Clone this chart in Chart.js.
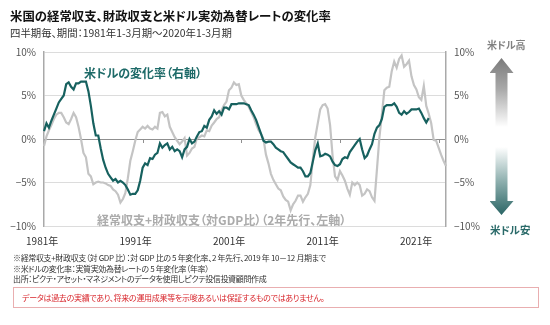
<!DOCTYPE html>
<html lang="ja">
<head>
<meta charset="utf-8">
<title>米国の経常収支、財政収支と米ドル実効為替レートの変化率</title>
<script src="https://cdn.jsdelivr.net/npm/chart.js@4.4.0/dist/chart.umd.min.js"></script>
<style>
  body { margin: 0; background: #fff; }
  #wrap { position: relative; width: 550px; height: 325px; overflow: hidden;
          font-family: "Noto Sans CJK JP", "Noto Sans", sans-serif; font-feature-settings: "palt"; color: #222; }
  #wrap div { position: absolute; white-space: nowrap; line-height: 1; }
  #chart { position: absolute; left: 0; top: 0; }
  .title { left: 10px; top: 10px; font-size: 12.4px; font-weight: bold; color: #111; }
  .sub { left: 10px; top: 27.5px; font-size: 10.4px; color: #333; }
  .note { left: 13px; font-size: 8px; letter-spacing: -0.35px; color: #333; }
  .lbl-usd { left: 84px; top: 67px; font-size: 12px; font-weight: bold; color: #1d6a68; }
  .lbl-bal { left: 97px; top: 214px; font-size: 12px; font-weight: bold; color: #ababab; }
  .up-txt { left: 487px; top: 39.5px; font-size: 10px; font-weight: bold; color: #808080; }
  .dn-txt { left: 490px; top: 224.5px; font-size: 10.5px; font-weight: bold; color: #2a6a69; }
  .arrow-up { left: 489.5px; top: 58px; width: 24px; height: 69px;
              background: linear-gradient(to bottom, #7a7a7a 0%, #a9a9a9 45%, #ffffff 100%);
              clip-path: polygon(12px 0, 24px 15px, 18px 15px, 18px 69px, 6px 69px, 6px 15px, 0 15px); }
  .arrow-dn { left: 489.5px; top: 147px; width: 24px; height: 68px;
              background: linear-gradient(to bottom, #ffffff 0%, #8fb0af 50%, #2b6565 100%);
              clip-path: polygon(6px 0, 18px 0, 18px 54px, 24px 54px, 12px 68px, 0 54px, 6px 54px); }
  .warn { left: 13px; top: 287px; width: 526px; height: 21px; border: 1px solid #e9aeb0; box-sizing: border-box; }
  .warn-txt { left: 22px; top: 294px; font-size: 8px; letter-spacing: -0.3px; color: #d8262c; }
</style>
</head>
<body>
<div id="wrap">
  <canvas id="chart" width="550" height="325"></canvas>
  <div class="title">米国の経常収支、財政収支と米ドル実効為替レートの変化率</div>
  <div class="sub">四半期毎、期間：1981年1-3月期～2020年1-3月期</div>
  <div class="lbl-usd">米ドルの変化率（右軸）</div>
  <div class="lbl-bal">経常収支+財政収支（対GDP比）（2年先行、左軸）</div>
  <div class="up-txt">米ドル高</div>
  <div class="arrow-up"></div>
  <div class="arrow-dn"></div>
  <div class="dn-txt">米ドル安</div>
  <div class="note" style="top:254px">※経常収支+財政収支（対 GDP 比）：対 GDP 比の 5 年変化率、2 年先行、2019 年 10－12 月期まで</div>
  <div class="note" style="top:264.5px">※米ドルの変化率：実質実効為替レートの 5 年変化率（年率）</div>
  <div class="note" style="top:275px">出所：ピクテ・アセット・マネジメントのデータを使用しピクテ投信投資顧問作成</div>
  <div class="warn"></div>
  <div class="warn-txt">データは過去の実績であり、将来の運用成果等を示唆あるいは保証するものではありません。</div>
</div>
<script>
// quarterly categories, 1981 Q1 .. 2021 Q4
const quarterLabels = [];
for (let y = 1981; y <= 2021; y++) {
    for (let q = 1; q <= 4; q++) quarterLabels.push(y + 'Q' + q);
}

const tickYears = [1981, 1991, 2001, 2011, 2021];
const axisTicks = [-10, -5, 0, 5, 10];

// 米ドルの変化率 (right axis, %), 1981Q1 .. 2020Q1
const dollarChange = [
    0.9, 1.8, 1.3, 2.1, 2.8, 3.5, 4.2, 4.6, 5.0, 6.3,
    6.5, 6.0, 5.7, 6.4, 6.4, 6.6, 6.6, 6.6, 5.5, 3.8,
    1.8, 0.4, 0.4, -1.1, -2.4, -3.3, -4.0, -4.4, -4.8, -4.6,
    -5.0, -4.8, -5.0, -5.3, -5.8, -6.4, -6.3, -6.3, -5.9, -4.8,
    -3.3, -2.8, -3.0, -2.2, -2.3, -1.8, -1.6, -0.5, -1.0, -0.7,
    -0.5, -1.2, -0.9, -1.4, -1.2, -1.4, -2.1, -1.2, -0.9, 0.0,
    -0.5, -0.3, 0.3, 0.8, 0.9, 1.5, 1.3, 2.2, 2.6, 3.3,
    2.9, 3.2, 2.8, 3.6, 3.6, 3.4, 4.0, 4.0, 4.0, 4.1,
    4.1, 4.1, 4.0, 3.9, 3.3, 2.8, 2.2, 1.4, 0.6, -0.2,
    -0.4, -0.3, -0.3, -0.6, -1.0, -1.2, -1.4, -1.5, -1.9, -2.3,
    -2.7, -2.9, -3.1, -3.3, -3.3, -3.7, -4.3, -4.3, -3.9, -2.6,
    -1.3, -0.5, -2.0, -1.9, -1.7, -1.8, -2.0, -2.6, -3.0, -3.1,
    -2.9, -2.3, -2.1, -2.2, -1.5, -1.1, -0.7, -0.3, 0.0, -1.2,
    -2.2, -1.9, -1.2, -0.6, 0.6, 1.3, 1.6, 2.3, 3.7, 3.9,
    3.9, 3.9, 4.1, 3.7, 3.0, 2.8, 3.2, 2.9, 3.1, 3.4,
    3.4, 3.4, 3.5, 3.0, 2.4, 1.9, 2.4
];

// 経常収支+財政収支 (対GDP比, 2年先行, left axis, %), 1981Q1 .. 2021Q4
const balanceChange = [
    -0.8, 0.3, 1.0, 1.6, 2.3, 2.8, 3.0, 3.0, 2.5, 1.9,
    1.7, 2.3, 3.0, 2.5, 1.4, 0.0, -1.6, -2.1, -4.0, -4.3,
    -5.2, -5.0, -4.9, -5.0, -5.0, -5.1, -5.3, -5.4, -5.8, -6.0,
    -6.4, -7.3, -6.9, -6.2, -4.5, -2.5, -1.4, -0.2, 0.8, 1.1,
    1.4, 1.2, 1.5, 1.2, 1.1, 1.4, 1.2, 3.0, 3.1, 2.6,
    2.8, 1.4, 0.8, 0.2, -0.2, -0.6, -0.3, 0.1, -1.9, -1.6,
    -1.1, -0.9, 0.1, 0.2, 0.4, 0.3, 1.0, 0.9, 1.55, 1.9,
    2.3, 2.5, 3.3, 3.9, 4.3, 5.6, 5.9, 6.5, 6.2, 6.3,
    5.0, 4.5, 4.1, 3.7, 3.1, 2.5, 1.7, 1.0, 0.6, 0.0,
    -1.8, -2.8, -4.0, -4.7, -5.2, -5.7, -5.9, -6.6, -7.0, -7.2,
    -8.2, -7.5, -7.1, -6.5, -6.5, -7.2, -6.7, -6.3, -5.3, -2.3,
    0.2, 1.8, 3.4, 3.9, 4.0, 3.5, 1.6, -1.9, -4.3, -4.7,
    -3.7, -4.2, -4.8, -5.7, -6.4, -5.0, -5.3, -5.0, -5.3, -6.5,
    -6.3, -5.8, -6.0, -6.7, -7.1, -3.5, 0.2, 2.8, 5.6, 5.9,
    6.0, 7.8, 8.9, 8.2, 9.2, 9.6, 8.3, 8.6, 9.0, 7.2,
    6.2, 5.7, 4.8, 4.5, 6.1, 3.8, 2.9, 1.8, -0.1, -0.2,
    -1.0, -1.8, -2.5, -3.1
];

const pct = v => (v < 0 ? '−' + Math.abs(v) : v) + '%';

// small tick marks on the zero line at each decade start
const zeroTicks = {
    id: 'zeroTicks',
    beforeDatasetsDraw(chart) {
        const { ctx, scales } = chart;
        const y0 = scales.yL.getPixelForValue(0);
        ctx.save();
        ctx.strokeStyle = '#8f8f8f';
        ctx.lineWidth = 1;
        tickYears.forEach(yr => {
            const idx = quarterLabels.indexOf(yr + 'Q1');
            const x = Math.round(scales.x.getPixelForValue(idx)) + 0.5;
            ctx.beginPath();
            ctx.moveTo(x, y0);
            ctx.lineTo(x, y0 + 4);
            ctx.stroke();
        });
        ctx.restore();
    }
};

const tickFont = { family: '"Noto Sans CJK JP", sans-serif', size: 10 };

new Chart(document.getElementById('chart'), {
    type: 'line',
    data: {
        labels: quarterLabels,
        datasets: [
            {
                label: '米ドルの変化率（右軸）',
                data: dollarChange,
                xAxisID: 'x',
                yAxisID: 'yR',
                borderColor: '#17615f',
                borderWidth: 2.2,
                pointRadius: 0,
                tension: 0,
                order: 0
            },
            {
                label: '経常収支+財政収支（対GDP比）（2年先行、左軸）',
                data: balanceChange,
                xAxisID: 'x',
                yAxisID: 'yL',
                borderColor: '#c4c4c4',
                borderWidth: 2.2,
                pointRadius: 0,
                tension: 0,
                order: 1
            }
        ]
    },
    options: {
        responsive: false,
        animation: false,
        layout: { padding: { top: 52, right: 64, left: 0, bottom: 0 } },
        plugins: { legend: { display: false }, tooltip: { enabled: false } },
        scales: {
            x: { type: 'category', display: false, offset: false },
            xl: {
                type: 'linear',
                position: 'bottom',
                min: 1981.2,
                max: 2024.2,
                afterBuildTicks: axis => { axis.ticks = tickYears.map(v => ({ value: v })); },
                afterFit: axis => { axis.height = 99; },
                grid: { display: false, drawTicks: false },
                border: { display: false },
                ticks: { padding: 9, color: '#333', font: tickFont, maxRotation: 0, autoSkip: false, callback: v => v + '年' }
            },
            yL: {
                position: 'left',
                min: -10,
                max: 10,
                afterBuildTicks: axis => { axis.ticks = axisTicks.map(v => ({ value: v })); },
                afterFit: axis => { axis.width = 44; },
                ticks: { padding: 8, color: '#555', font: tickFont, callback: pct },
                grid: { color: c => c.tick.value === 0 ? '#8f8f8f' : '#dcdcdc', drawTicks: false, lineWidth: 1 },
                border: { color: '#a9a9a9', width: 1.5 }
            },
            yR: {
                position: 'right',
                min: -10,
                max: 10,
                afterBuildTicks: axis => { axis.ticks = axisTicks.map(v => ({ value: v })); },
                afterFit: axis => { axis.width = 40; },
                ticks: { padding: 8, color: '#555', font: tickFont, callback: pct },
                grid: { display: false, drawTicks: false },
                border: { color: '#a9a9a9', width: 1.5 }
            }
        }
    },
    plugins: [zeroTicks]
});
</script>
</body>
</html>
